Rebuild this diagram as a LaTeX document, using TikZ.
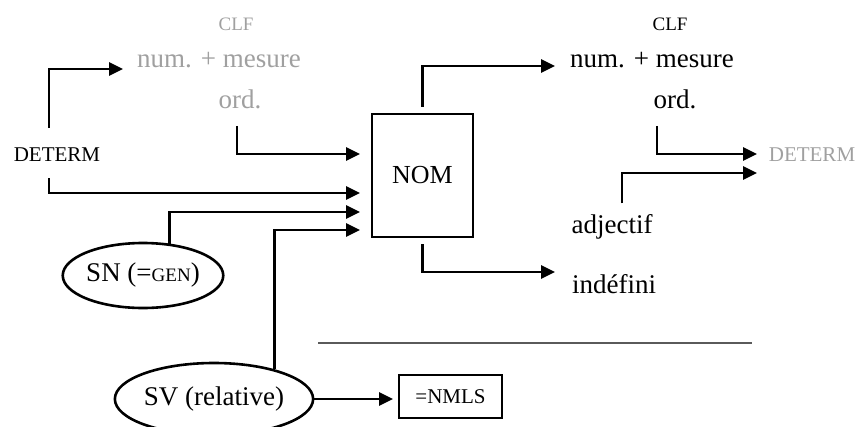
\documentclass[tikz,border=0pt]{standalone}
\usepackage{fontspec}
\setmainfont{Liberation Serif}
\usetikzlibrary{arrows.meta,shapes.geometric}
\definecolor{lightgrey}{RGB}{160,160,160}
\definecolor{rulegrey}{RGB}{90,90,90}
\begin{document}
\begin{tikzpicture}[x=1pt,y=-1pt,
  txt/.style={inner sep=0pt,font=\fontsize{27}{30}\selectfont},
  sctxt/.style={inner sep=0pt,font=\fontsize{21}{25}\selectfont},
  grey/.style={text=lightgrey},
  conn/.style={line width=2.8pt,-{Triangle[length=14pt,width=13pt]}},
  boxed/.style={draw,line width=2.8pt,inner sep=0pt},
  oval/.style={draw,ellipse,line width=2.6pt,inner sep=0pt},
]
\useasboundingbox (0,0) rectangle (860,426);
% left grey group
\node[sctxt,grey,font=\fontsize{19}{22}\selectfont] (clfg) at (236,24) {CLF};
\node[txt,grey] (numg) at (219,60) {num. + mesure};
\node[txt,grey] (ordg) at (240,99) {ord.};
\node[sctxt] (determ) at (57,155) {DETERM};
% NOM box
\node[boxed,minimum width=101pt,minimum height=123pt,font=\fontsize{26}{30}\selectfont] (nom) at (422.5,175.5) {NOM};
% right group
\node[sctxt,font=\fontsize{19}{22}\selectfont] (clfb) at (670,24) {CLF};
\node[txt] (numb) at (652,60) {num. + mesure};
\node[txt] (ordb) at (675,99) {ord.};
\node[sctxt,grey] (determg) at (812,155) {DETERM};
\node[txt] (adj) at (612,227) {adjectif};
\node[txt] (indef) at (614,284) {indéfini};
% ellipses
\node[oval,minimum width=158pt,minimum height=65pt] (sn) at (143,275.5)
  {\fontsize{27}{30}\selectfont SN (=\fontsize{19}{22}\selectfont GEN\fontsize{27}{30}\selectfont)};
\node[oval,minimum width=168pt,minimum height=72pt] (sv) at (214,399)
  {\fontsize{27}{30}\selectfont SV (relative)};
\node[boxed,minimum width=103pt,minimum height=43pt,font=\fontsize{21}{25}\selectfont] (nmls) at (450.5,396.5) {=NMLS};
% arrow tips
\coordinate (tNumG) at (123,69);
\coordinate (tNom1) at (360,154);
\coordinate (tNom2) at (360,193);
\coordinate (tNom3) at (360,212);
\coordinate (tNom4) at (360,230);
\coordinate (tNumB) at (555,66);
\coordinate (tIndef) at (555,272);
\coordinate (tDet1) at (757,154);
\coordinate (tDet2) at (757,173);
\coordinate (tNmls) at (393,399);
% connectors
\draw[conn] ([xshift=-8pt,yshift=20pt]determ.north) |- (tNumG);
\draw[conn] ([xshift=-8pt,yshift=-16pt]determ.south) |- (tNom2);
\draw[conn] ([xshift=-3pt,yshift=-17pt]ordg.south) |- (tNom1);
\draw[conn] (sn.50) |- (tNom3);
\draw[conn] (sv.26) |- (tNom4);
\draw[conn] (sv.east) -- (tNmls);
\draw[conn] ([yshift=6pt]nom.north) |- (tNumB);
\draw[conn] ([yshift=-6pt]nom.south) |- (tIndef);
\draw[conn] ([xshift=-18pt,yshift=-17pt]ordb.south) |- (tDet1);
\draw[conn] ([xshift=10pt,yshift=11pt]adj.north) |- (tDet2);
% separator rule
\draw[rulegrey,line width=1.2pt] (318,343) -- (752,343);
\end{tikzpicture}
\end{document}
